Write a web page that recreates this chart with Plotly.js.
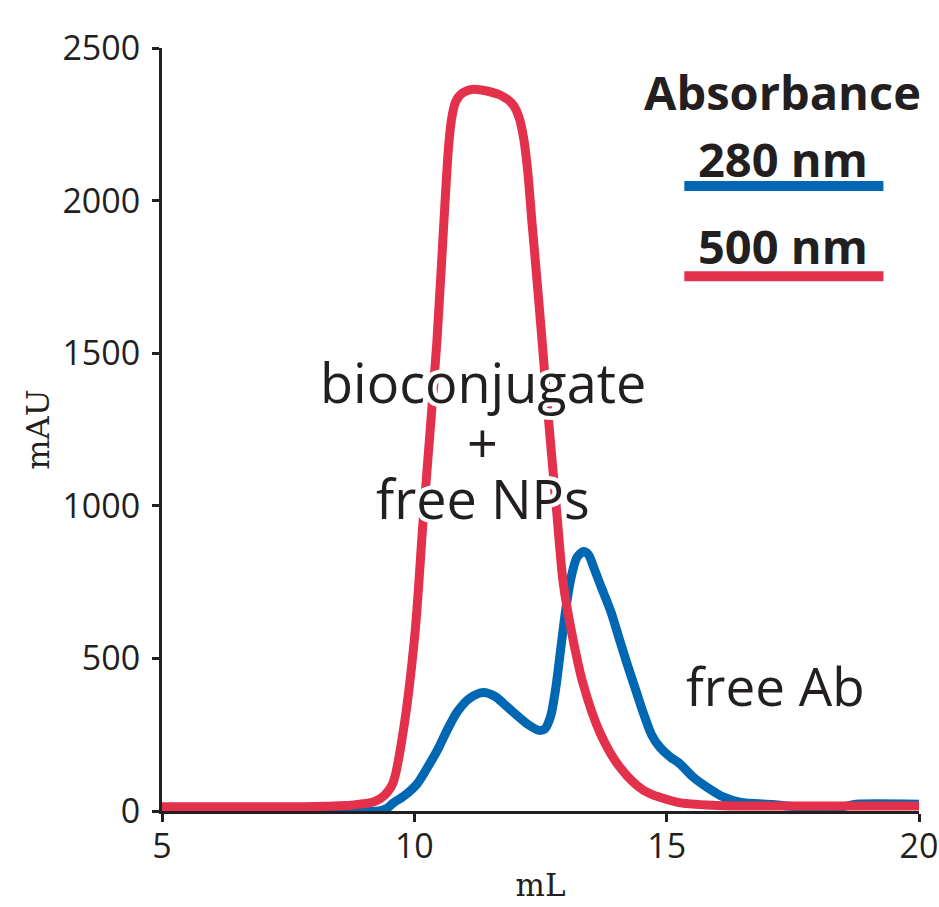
<!DOCTYPE html>
<html>
<head>
<meta charset="utf-8">
<script src="https://cdn.plot.ly/plotly-3.0.1.min.js"></script>
<style>
html,body{margin:0;padding:0;background:#fff;}
#chart{width:939px;height:907px;}
</style>
</head>
<body>
<div id="chart"></div>
<script>
// Absorbance at 280 nm (blue)
const x280 = [5, 9.3, 9.45, 9.58, 9.8, 10.06, 10.25, 10.46, 10.65, 10.85, 11.1, 11.37, 11.6, 11.77, 12.0, 12.24, 12.45, 12.58, 12.7, 12.8, 12.9, 13.0, 13.1, 13.22, 13.35, 13.45, 13.55, 13.7, 13.89, 14.05, 14.23, 14.4, 14.54, 14.7, 14.87, 15.07, 15.26, 15.52, 15.8, 16.12, 16.45, 17.1, 17.5, 18.5, 18.75, 20];
const y280 = [0, 0, 8, 26, 50, 90, 140, 200, 265, 325, 370, 388, 375, 352, 318, 285, 265, 268, 310, 400, 530, 660, 760, 830, 850, 840, 800, 735, 655, 570, 475, 390, 320, 250, 208, 177, 155, 112, 78, 46, 29, 21, 15, 15, 22, 22];
// Absorbance at 500 nm (red)
const x500 = [5, 7, 8, 8.8, 9.2, 9.4, 9.577, 9.775, 10.013, 10.171, 10.31, 10.449, 10.607, 10.68, 10.74, 10.82, 10.95, 11.17, 11.7, 11.95, 12.08, 12.17, 12.25, 12.33, 12.43, 12.53, 12.65, 12.75, 12.83, 12.95, 13.12, 13.34, 13.68, 14.07, 14.53, 15.2, 16.0, 17.0, 20];
const y500 = [14, 14, 15, 20, 30, 50, 92, 256, 583, 945, 1240, 1543, 1992, 2180, 2270, 2325, 2352, 2365, 2346, 2315, 2270, 2200, 2090, 1930, 1740, 1543, 1300, 1110, 963, 747, 583, 419, 256, 144, 69, 29, 18, 16, 16];

const xTicks = [5, 10, 15, 20];
const yTicks = [0, 500, 1000, 1500, 2000, 2500];

const BLUE = '#0068b3';
const RED = '#e3304b';
const INK = '#231f20';
const halo = '4px 0 0 #fff, -4px 0 0 #fff, 0 4px 0 #fff, 0 -4px 0 #fff, 3px 3px 0 #fff, -3px -3px 0 #fff, 3px -3px 0 #fff, -3px 3px 0 #fff';

const traces = [
  {x: x280, y: y280, type: 'scatter', mode: 'lines', name: '280 nm',
   line: {color: BLUE, width: 9, shape: 'spline', smoothing: 0.8}},
  {x: x500, y: y500, type: 'scatter', mode: 'lines', name: '500 nm',
   line: {color: RED, width: 9, shape: 'spline', smoothing: 0.8}}
];

const layout = {
  width: 939, height: 907,
  margin: {l: 162, r: 20, t: 48, b: 96},
  paper_bgcolor: '#fff', plot_bgcolor: '#fff',
  showlegend: false,
  font: {family: 'Open Sans, sans-serif', color: INK},
  xaxis: {
    range: [5, 20], tickvals: xTicks, ticktext: xTicks.map(String),
    showgrid: false, zeroline: false, showline: true, linecolor: INK, linewidth: 3,
    ticks: 'outside', ticklen: 8, tickwidth: 3, tickcolor: INK,
    ticklabelstandoff: -5,
    tickfont: {size: 34, color: INK, family: 'Open Sans, sans-serif'},
    title: {text: 'mL', font: {family: 'DejaVu Serif, serif', size: 31, color: INK}, standoff: 8}
  },
  yaxis: {
    range: [0, 2500], tickvals: yTicks, ticktext: yTicks.map(String),
    showgrid: false, zeroline: false, showline: true, linecolor: INK, linewidth: 3,
    ticks: 'outside', ticklen: 7, tickwidth: 3, tickcolor: INK,
    ticklabelstandoff: 5,
    tickfont: {size: 34, color: INK, family: 'Open Sans, sans-serif'},
    title: {text: 'mAU', font: {family: 'DejaVu Serif, serif', size: 32, color: INK}, standoff: 4}
  },
  shapes: [
    {type: 'line', xref: 'paper', yref: 'paper', x0: 0.69, x1: 0.953, y0: 0.819, y1: 0.819,
     line: {color: BLUE, width: 10}},
    {type: 'line', xref: 'paper', yref: 'paper', x0: 0.69, x1: 0.953, y0: 0.701, y1: 0.701,
     line: {color: RED, width: 10}}
  ],
  annotations: [
    {text: 'Absorbance', xref: 'paper', yref: 'paper', x: 0.82, y: 0.942, showarrow: false,
     xanchor: 'center', yanchor: 'middle', font: {size: 47, weight: 700, color: INK}},
    {text: '280 nm', xref: 'paper', yref: 'paper', x: 0.82, y: 0.855, showarrow: false,
     xanchor: 'center', yanchor: 'middle', font: {size: 47, weight: 700, color: INK}},
    {text: '500 nm', xref: 'paper', yref: 'paper', x: 0.82, y: 0.741, showarrow: false,
     xanchor: 'center', yanchor: 'middle', font: {size: 47, weight: 700, color: INK}},
    {text: 'bioconjugate', xref: 'paper', yref: 'paper', x: 0.424, y: 0.562, showarrow: false,
     xanchor: 'center', yanchor: 'middle', font: {size: 54, color: INK, shadow: halo}},
    {text: '+', xref: 'paper', yref: 'paper', x: 0.424, y: 0.484, showarrow: false,
     xanchor: 'center', yanchor: 'middle', font: {size: 54, color: INK, shadow: halo}},
    {text: 'free NPs', xref: 'paper', yref: 'paper', x: 0.424, y: 0.41, showarrow: false,
     xanchor: 'center', yanchor: 'middle', font: {size: 54, color: INK, shadow: halo}},
    {text: 'free Ab', xref: 'paper', yref: 'paper', x: 0.811, y: 0.165, showarrow: false,
     xanchor: 'center', yanchor: 'middle', font: {size: 53, color: INK, shadow: halo}}
  ]
};

Plotly.newPlot('chart', traces, layout, {displayModeBar: false, staticPlot: true});
</script>
</body>
</html>
